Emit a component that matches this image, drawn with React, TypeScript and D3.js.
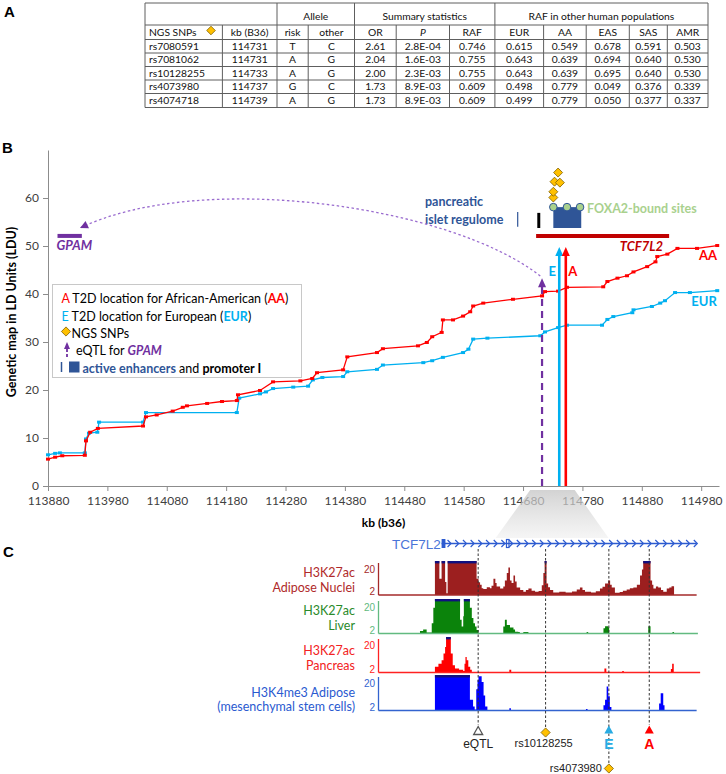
import { useEffect, useRef } from "react";
import * as d3 from "d3";

const W = 726;
const H = 774;
const SANS = "Lato, 'Open Sans', 'DejaVu Sans', sans-serif";
const ARIAL = "'Liberation Sans', Arial, sans-serif";

// ---- Panel A: NGS SNP table ----
const tableGroups = ["", "Allele", "Summary statistics", "RAF in other human populations"];
const tableGroupSpans = [2, 2, 3, 5];
const tableColumns = ["NGS SNPs", "kb (B36)", "risk", "other", "OR", "P", "RAF", "EUR", "AA", "EAS", "SAS", "AMR"];
const snpIds = ["rs7080591", "rs7081062", "rs10128255", "rs4073980", "rs4074718"];
const snpKb = [114731, 114731, 114733, 114737, 114739];
const riskAllele = ["T", "A", "A", "G", "A"];
const otherAllele = ["C", "G", "G", "C", "G"];
const oddsRatio = ["2.61", "2.04", "2.00", "1.73", "1.73"];
const pValue = ["2.8E-04", "1.6E-03", "2.3E-03", "8.9E-03", "8.9E-03"];
const rafT2D = ["0.746", "0.755", "0.755", "0.609", "0.609"];
const rafEUR = ["0.615", "0.643", "0.643", "0.498", "0.499"];
const rafAA = ["0.549", "0.639", "0.639", "0.779", "0.779"];
const rafEAS = ["0.678", "0.694", "0.695", "0.049", "0.050"];
const rafSAS = ["0.591", "0.640", "0.640", "0.376", "0.377"];
const rafAMR = ["0.503", "0.530", "0.530", "0.339", "0.337"];

// ---- Panel B: LD maps (kb, LDU) ----
const kbTicks = [113880, 113980, 114080, 114180, 114280, 114380, 114480, 114580, 114680, 114780, 114880, 114980];
const lduTicks = [0, 10, 20, 30, 40, 50, 60];
const aaMap: [number, number][] = [
  [113880, 5.6], [113892, 6.0], [113904, 6.3], [113942, 6.4], [113944, 9.4], [113951, 11.2], [113964, 12.0],
  [114040, 12.5], [114045, 14.4], [114063, 14.8], [114090, 15.6], [114107, 16.4], [114114, 16.7], [114148, 17.2],
  [114173, 17.6], [114198, 17.8], [114200, 19.0], [114237, 19.9], [114259, 21.7], [114305, 21.9], [114325, 22.4],
  [114333, 23.6], [114377, 24.2], [114384, 26.9], [114434, 27.8], [114444, 28.6], [114503, 29.2], [114518, 29.9],
  [114527, 31.1], [114543, 32.0], [114545, 34.6], [114562, 34.6], [114579, 35.4], [114591, 36.3], [114596, 37.5],
  [114613, 38.1], [114663, 38.9], [114712, 39.6], [114717, 40.5], [114739, 40.6], [114754, 41.4], [114815, 41.5],
  [114822, 42.6], [114839, 43.3], [114855, 43.8], [114866, 44.6], [114889, 45.7], [114903, 46.7], [114906, 47.8],
  [114923, 48.3], [114940, 49.5], [114973, 49.5], [115007, 50.1],
];
const eurMap: [number, number][] = [
  [113880, 6.5], [113892, 6.8], [113900, 6.9], [113942, 6.9], [113944, 9.8], [113949, 11.0], [113963, 11.2],
  [113966, 13.3], [114040, 13.3], [114045, 15.3], [114198, 15.3], [114202, 18.3], [114237, 19.2], [114247, 19.6],
  [114259, 20.3], [114293, 20.6], [114318, 20.8], [114326, 22.1], [114342, 22.6], [114377, 22.8], [114384, 23.8],
  [114434, 24.3], [114444, 25.2], [114512, 25.7], [114527, 26.1], [114545, 26.8], [114579, 27.8], [114588, 28.5],
  [114596, 30.6], [114620, 30.8], [114709, 31.3], [114717, 32.1], [114739, 33.0], [114754, 33.5], [114813, 33.5],
  [114822, 34.7], [114832, 35.3], [114864, 36.1], [114866, 36.7], [114897, 37.4], [114911, 38.1], [114919, 38.6],
  [114936, 40.3], [114961, 40.3], [115007, 40.7],
];
// loci marked with arrows: [kb, arrow tip LDU]
const eqtlArrow = [114712, 43.3];
const eurArrow = [114741, 49.8];
const aaArrow = [114752, 49.8];
// genes: [start kb, end kb, LDU]
const gpamGene = [113896, 113937, 52.1];
const tcf7l2Gene = [114702, 114926, 52.1];
// SNP diamonds stacked above the regulome (kb, LDU)
const snpStack: [number, number][] = [[114731, 60.1], [114731, 61.3], [114733, 63.4], [114737, 63.2], [114739, 65.3]];
const foxa2Sites = [114731, 114754, 114776];

// ---- Panel C: epigenome tracks (kb from 114680, signal 0-20) ----
const adiposeNuclei: [number, number][] = [
  [17.9, 20], [19.3, 9.5], [20.0, 20], [21.1, 7.6], [21.5, 1], [21.9, 20], [31.0, 9.5], [31.6, 7.5], [32.1, 6.0],
  [32.6, 4.0], [33.1, 3.5], [34.2, 4.5], [35.2, 4.0], [35.7, 5.5], [36.3, 9.5], [36.9, 7.0], [37.3, 5.0], [38.4, 3.8],
  [39.4, 5.0], [39.9, 8.6], [40.5, 13], [41.0, 16.2], [41.5, 8.6], [42.0, 7], [42.6, 11.4], [43.1, 8], [43.6, 4.4],
  [44.7, 2.9], [45.7, 1.9], [46.5, 3.0], [47.3, 3.8], [48.3, 2.5], [49.4, 1.9], [50.5, 2.4], [51.5, 5.7], [52.0, 13],
  [52.4, 20], [53.0, 6.7], [53.5, 4.5], [54.1, 2.9], [55.1, 1.5], [57, 1.9], [59, 1.4], [61, 2.0], [62.5, 3.2],
  [63.5, 4.4], [64.3, 3.0], [65.1, 1.9], [67, 1.5], [68.5, 2.2], [69.8, 3.8], [70.6, 4.8], [71.4, 6.7], [72.4, 8.6],
  [73.0, 6.0], [73.5, 4.4], [74.5, 1.3], [76, 1.8], [77, 2.5], [78.2, 3.2], [79.2, 4.0], [80.3, 4.4], [81.4, 6.0],
  [82.4, 11.4], [83.0, 15], [83.4, 20], [85.7, 8.6], [86.2, 6.0], [86.6, 3.8], [87.4, 5.0], [88.1, 4.4], [89.0, 3.0],
  [89.7, 1.9], [90.8, 3.8], [91.6, 4.4], [92.3, 5.1], [93.1, 0],
];
const liverSignal: [number, number][] = [
  [13.2, 1.5], [14.2, 2.3], [15.3, 0.6], [16.9, 6], [17.4, 15], [17.9, 20], [25.3, 20], [25.8, 8], [26.3, 4],
  [26.8, 10], [27.0, 20], [28.6, 20], [28.9, 15], [29.5, 9], [30.0, 6], [30.5, 4], [31.0, 2], [31.6, 0],
  [39.4, 4], [39.9, 8], [40.5, 5], [41.5, 3.5], [42.6, 2.3], [43.1, 1], [44.1, 0.8], [44.6, 0], [45.7, 0.8], [47.3, 0],
  [65.6, 0.8], [66.1, 0], [70.9, 3], [71.4, 4.2], [72.4, 3.5], [72.7, 0], [85.0, 4.2], [85.7, 0], [92.6, 0.8], [93.1, 0],
];
const pancreasSignal: [number, number][] = [
  [17.9, 3.2], [19.0, 5.0], [20.0, 6.9], [20.6, 10.7], [21.1, 14.4], [21.4, 20], [22.9, 10.7], [23.5, 4.1],
  [24.2, 2.2], [25.5, 1.5], [26.8, 0.8], [27.2, 5], [27.5, 8.8], [27.9, 6.9], [28.4, 3.2], [29.0, 1.5], [29.5, 0],
  [41.3, 1.5], [41.9, 0], [71.2, 2.2], [71.8, 0], [76.8, 0.8], [77.3, 0], [92.1, 2], [92.5, 5], [93.0, 0],
];
const adiposeMscSignal: [number, number][] = [
  [17.9, 20], [28.9, 6], [29.9, 2.2], [30.4, 0.5], [30.9, 12], [31.3, 17.2], [31.6, 19.3], [32.6, 16], [33.2, 8.4],
  [33.7, 2.2], [34.4, 0], [41.3, 1.2], [41.8, 0], [65.4, 0.8], [65.9, 0], [70.9, 3], [71.4, 6], [71.9, 13.5],
  [72.4, 8], [72.9, 2], [73.4, 0], [88.4, 4], [88.9, 9.7], [89.7, 3], [90.1, 0],
];
const geneStartC = 20.0;
const geneEndC = 100.2;
// marker positions in panel C (kb from 114680)
const eqtlC = 31.5;
const rs10128255C = 52.7;
const eurC = 72.6;
const aaC = 85.3;

function diamond(g: any, cx: number, cy: number, r: number) {
  g.append("path")
    .attr("d", `M${cx},${cy - r}L${cx + r},${cy}L${cx},${cy + r}L${cx - r},${cy}Z`)
    .attr("fill", "#ffc000")
    .attr("stroke", "#7f6000")
    .attr("stroke-width", 0.8);
}

function upTriangle(g: any, cx: number, tip: number, w: number, h: number, fill: string, stroke = "none") {
  g.append("path")
    .attr("d", `M${cx},${tip}L${cx + w / 2},${tip + h}L${cx - w / 2},${tip + h}Z`)
    .attr("fill", fill)
    .attr("stroke", stroke)
    .attr("stroke-width", 1.3);
}

function richText(g: any, x: number, y: number, parts: [string, any][], size = 12.5) {
  const t = g.append("text").attr("x", x).attr("y", y).attr("font-family", SANS).attr("font-size", size);
  parts.forEach(([s, st]) => {
    const ts = t.append("tspan").text(s).attr("fill", st.fill || "#000");
    if (st.bold) ts.attr("font-weight", "bold");
    if (st.italic) ts.attr("font-style", "italic");
  });
  return t;
}

function drawTable(svg: any) {
  const colEdges = [145, 222.4, 277, 308.2, 354.5, 396.2, 449.5, 494.9, 543.6, 586.2, 629.3, 667.3, 708];
  const rowEdges = [3, 25, 39.5, 53, 66.5, 80, 93.5, 107.5];
  const g = svg.append("g").attr("font-family", SANS).attr("font-size", 10.3).attr("fill", "#111");
  const stroke = "#5e5e5e";
  const left = colEdges[0];
  const right = colEdges[colEdges.length - 1];

  rowEdges.forEach((y) =>
    g.append("line").attr("x1", left).attr("x2", right).attr("y1", y).attr("y2", y).attr("stroke", stroke)
  );
  const bounds = [0];
  tableGroupSpans.forEach((s) => bounds.push(bounds[bounds.length - 1] + s));
  bounds.forEach((i) =>
    g.append("line").attr("x1", colEdges[i]).attr("x2", colEdges[i]).attr("y1", rowEdges[0]).attr("y2", rowEdges[1]).attr("stroke", stroke)
  );
  colEdges.forEach((x) =>
    g.append("line").attr("x1", x).attr("x2", x).attr("y1", rowEdges[1]).attr("y2", rowEdges[rowEdges.length - 1]).attr("stroke", stroke)
  );

  tableGroups.forEach((label, k) => {
    g.append("text")
      .attr("x", (colEdges[bounds[k]] + colEdges[bounds[k + 1]]) / 2)
      .attr("y", rowEdges[1] - 5)
      .attr("text-anchor", "middle")
      .text(label);
  });

  tableColumns.forEach((c, i) => {
    const t = g.append("text").attr("y", rowEdges[2] - 4).text(c);
    if (i === 0) t.attr("x", left + 4);
    else t.attr("x", (colEdges[i] + colEdges[i + 1]) / 2).attr("text-anchor", "middle");
    if (c === "P") t.attr("font-style", "italic");
  });
  diamond(g, 211, 30.5, 4.3);

  const cols = [snpIds, snpKb.map(String), riskAllele, otherAllele, oddsRatio, pValue, rafT2D, rafEUR, rafAA, rafEAS, rafSAS, rafAMR];
  snpIds.forEach((_, r) => {
    cols.forEach((col, i) => {
      const t = g.append("text").attr("y", rowEdges[r + 3] - 3.5).text(col[r]);
      if (i === 0) t.attr("x", left + 4);
      else t.attr("x", (colEdges[i] + colEdges[i + 1]) / 2).attr("text-anchor", "middle");
    });
  });

  svg.append("text").attr("x", 4).attr("y", 17).attr("font-family", ARIAL).attr("font-weight", "bold").attr("font-size", 15).text("A");
}

function drawMap(svg: any) {
  const xB = d3.scaleLinear().domain([113880, 115010]).range([48, 719]);
  const yB = d3.scaleLinear().domain([0, 70]).range([486, 150]);
  const g = svg.append("g");

  svg.append("text").attr("x", 2).attr("y", 153).attr("font-family", ARIAL).attr("font-weight", "bold").attr("font-size", 15).text("B");

  // axes
  const xAxis = g.append("g")
    .attr("transform", `translate(0,${yB(0)})`)
    .call(d3.axisBottom(xB).tickValues(kbTicks).tickFormat(d3.format("d")).tickSize(5).tickSizeOuter(0).tickPadding(5));
  const yAxis = g.append("g")
    .attr("transform", `translate(${xB(113880)},0)`)
    .call(d3.axisLeft(yB).tickValues(lduTicks).tickSize(5).tickSizeOuter(0).tickPadding(4));
  [xAxis, yAxis].forEach((a) => {
    a.attr("font-family", SANS).attr("font-size", 12);
    a.select(".domain").attr("stroke", "#8c8c8c");
    a.selectAll(".tick line").attr("stroke", "#8c8c8c");
    a.selectAll(".tick text").attr("fill", "#404040");
  });

  g.append("text")
    .attr("x", (xB.range()[0] + xB.range()[1]) / 2)
    .attr("y", 527)
    .attr("text-anchor", "middle")
    .attr("font-family", SANS)
    .attr("font-weight", "bold")
    .attr("font-size", 12)
    .text("kb (b36)");
  g.append("text")
    .attr("transform", `translate(16,${(yB(0) + yB(70)) / 2 - 6}) rotate(-90)`)
    .attr("text-anchor", "middle")
    .attr("font-family", SANS)
    .attr("font-weight", "bold")
    .attr("font-size", 12.5)
    .text("Genetic map in LD Units (LDU)");

  // LD map curves
  const line = d3.line<[number, number]>().x((d) => xB(d[0])).y((d) => yB(d[1]));
  [
    { data: eurMap, color: "#00b0f0" },
    { data: aaMap, color: "#ff0000" },
  ].forEach((s) => {
    g.append("path").datum(s.data).attr("fill", "none").attr("stroke", s.color).attr("stroke-width", 1.3).attr("d", line);
    g.append("g")
      .selectAll("rect")
      .data(s.data)
      .join("rect")
      .attr("x", (d: any) => xB(d[0]) - 2)
      .attr("y", (d: any) => yB(d[1]) - 1.5)
      .attr("width", 4)
      .attr("height", 3)
      .attr("fill", s.color);
  });
  g.append("text").attr("x", 708).attr("y", 259.5).attr("text-anchor", "middle").attr("font-family", SANS)
    .attr("font-weight", "bold").attr("font-size", 13).attr("fill", "#ff0000").text("AA");
  g.append("text").attr("x", 704).attr("y", 305.5).attr("text-anchor", "middle").attr("font-family", SANS)
    .attr("font-weight", "bold").attr("font-size", 13).attr("fill", "#00b0f0").text("EUR");

  // genes
  g.append("line").attr("x1", xB(gpamGene[0])).attr("x2", xB(gpamGene[1])).attr("y1", yB(gpamGene[2])).attr("y2", yB(gpamGene[2]))
    .attr("stroke", "#7030a0").attr("stroke-width", 4);
  g.append("text").attr("x", xB(gpamGene[0]) - 1).attr("y", yB(gpamGene[2]) + 14.5).attr("font-family", SANS)
    .attr("font-weight", "bold").attr("font-style", "italic").attr("font-size", 13).attr("fill", "#7030a0").text("GPAM");
  g.append("line").attr("x1", xB(tcf7l2Gene[0])).attr("x2", xB(tcf7l2Gene[1])).attr("y1", yB(tcf7l2Gene[2])).attr("y2", yB(tcf7l2Gene[2]))
    .attr("stroke", "#c00000").attr("stroke-width", 4);
  g.append("text").attr("x", xB(tcf7l2Gene[1]) - 6).attr("y", yB(tcf7l2Gene[2]) + 15).attr("text-anchor", "end").attr("font-family", SANS)
    .attr("font-weight", "bold").attr("font-style", "italic").attr("font-size", 13).attr("fill", "#c00000").text("TCF7L2");

  // pancreatic islet regulome
  const blue = "#2f5597";
  richText(g, 425, 206, [["pancreatic", { fill: blue, bold: true }]], 12.5);
  richText(g, 425, 224, [["islet regulome", { fill: blue, bold: true }]], 12.5);
  g.append("line").attr("x1", xB(114671)).attr("x2", xB(114671)).attr("y1", yB(57.1)).attr("y2", yB(54.0)).attr("stroke", blue).attr("stroke-width", 1.2);
  g.append("rect").attr("x", xB(114704)).attr("y", yB(56.9)).attr("width", xB(114709) - xB(114704)).attr("height", yB(53.75) - yB(56.9)).attr("fill", "#000");
  g.append("rect").attr("x", xB(114731)).attr("y", yB(58.1)).attr("width", xB(114778) - xB(114731)).attr("height", yB(53.75) - yB(58.1)).attr("fill", blue);
  foxa2Sites.forEach((kb) =>
    g.append("circle").attr("cx", xB(kb)).attr("cy", yB(58.1)).attr("r", 3.8).attr("fill", "#a9d18e").attr("stroke", blue).attr("stroke-width", 1)
  );
  richText(g, 587, 212.5, [["FOXA2-bound sites", { fill: "#a9d18e", bold: true }]], 12.5);
  snpStack.forEach(([kb, ldu], i) => diamond(g, xB(kb) + (i === 3 ? 3 : 0), yB(ldu), 4.5));

  // dotted link eQTL -> GPAM
  const p = d3.path();
  const p0 = [xB(114709), yB(43.75)];
  const c1 = [xB(114557), yB(58.5)];
  const c2 = [xB(114136), yB(65.8)];
  const p3 = [xB(113934), yB(53.75)];
  p.moveTo(p0[0], p0[1]);
  p.bezierCurveTo(c1[0], c1[1], c2[0], c2[1], p3[0], p3[1]);
  g.append("path").attr("d", p.toString()).attr("fill", "none").attr("stroke", "#9a6ccf").attr("stroke-width", 1.3).attr("stroke-dasharray", "2.5,2.5");
  const ang = Math.atan2(p3[1] - c2[1], p3[0] - c2[0]);
  const ah = 8, aw = 4;
  const bx = p3[0] - ah * Math.cos(ang), by = p3[1] - ah * Math.sin(ang);
  g.append("path")
    .attr("d", `M${p3[0]},${p3[1]}L${bx + aw * Math.sin(ang)},${by - aw * Math.cos(ang)}L${bx - aw * Math.sin(ang)},${by + aw * Math.cos(ang)}Z`)
    .attr("fill", "#7030a0");

  // vertical arrows
  const ex = xB(eqtlArrow[0]);
  g.append("line").attr("x1", ex).attr("x2", ex).attr("y1", yB(0)).attr("y2", yB(eqtlArrow[1]) + 7)
    .attr("stroke", "#7030a0").attr("stroke-width", 2.2).attr("stroke-dasharray", "7,5");
  upTriangle(g, ex, yB(eqtlArrow[1]), 8, 9, "#7030a0");
  [
    { a: eurArrow, color: "#00b0f0", label: "E", dx: -7 },
    { a: aaArrow, color: "#ff0000", label: "A", dx: 7 },
  ].forEach((s) => {
    const x = xB(s.a[0]);
    g.append("line").attr("x1", x).attr("x2", x).attr("y1", yB(0)).attr("y2", yB(s.a[1]) + 6).attr("stroke", s.color).attr("stroke-width", 2.6);
    upTriangle(g, x, yB(s.a[1]), 8, 9, s.color);
    g.append("text").attr("x", x + s.dx).attr("y", 276).attr("text-anchor", "middle").attr("font-family", SANS)
      .attr("font-weight", "bold").attr("font-size", 13).attr("fill", s.color).text(s.label);
  });

  // legend
  const lg = g.append("g");
  lg.append("rect").attr("x", 52.5).attr("y", 284.5).attr("width", 249).attr("height", 93).attr("fill", "#fff").attr("stroke", "#c8c8c8");
  richText(lg, 61.5, 302.5, [["A", { fill: "#ff0000" }], [" T2D location for African-American (", {}], ["AA", { fill: "#ff0000", bold: true }], [")", {}]]);
  richText(lg, 61.5, 320.5, [["E", { fill: "#00b0f0" }], [" T2D location for European (", {}], ["EUR", { fill: "#00b0f0", bold: true }], [")", {}]]);
  diamond(lg, 66, 331.5, 4.6);
  richText(lg, 71.5, 337.5, [["NGS SNPs", {}]]);
  lg.append("line").attr("x1", 67).attr("x2", 67).attr("y1", 349).attr("y2", 359).attr("stroke", "#7030a0").attr("stroke-width", 1.8).attr("stroke-dasharray", "3,2");
  upTriangle(lg, 67, 342, 6, 7, "#7030a0");
  richText(lg, 76, 355, [["eQTL for ", {}], ["GPAM", { fill: "#7030a0", bold: true, italic: true }]]);
  lg.append("line").attr("x1", 61.5).attr("x2", 61.5).attr("y1", 362).attr("y2", 372).attr("stroke", blue).attr("stroke-width", 1.5);
  lg.append("rect").attr("x", 69).attr("y", 361.5).attr("width", 10.5).attr("height", 11).attr("fill", blue);
  richText(lg, 82.5, 372.5, [["active enhancers", { fill: blue, bold: true }], [" and ", {}], ["promoter I", { bold: true }]]);

  return xB;
}

function drawTracks(svg: any, xB: any) {
  const xC = d3.scaleLinear().domain([0, 100]).range([378, 696]);
  const g = svg.append("g");

  svg.append("text").attr("x", 3).attr("y", 557).attr("font-family", ARIAL).attr("font-weight", "bold").attr("font-size", 15).text("C");

  // zoom wedge from panel B axis to panel C
  const defs = svg.append("defs");
  const grad = defs.append("linearGradient").attr("id", "wedge").attr("x1", 0).attr("x2", 0).attr("y1", 0).attr("y2", 1);
  grad.append("stop").attr("offset", "0%").attr("stop-color", "#c4c4c4").attr("stop-opacity", 0.75);
  grad.append("stop").attr("offset", "100%").attr("stop-color", "#efefef").attr("stop-opacity", 0.6);
  g.append("path")
    .attr("d", `M${xB(114692)},490L${xB(114767)},490L${xC(72.5)},538L${xC(37.0)},538Z`)
    .attr("fill", "url(#wedge)");

  // gene model
  const geneColor = "#2d5bd0";
  const gy = 543.5;
  g.append("text").attr("x", 392).attr("y", gy + 5).attr("font-family", ARIAL).attr("font-size", 13.5).attr("fill", "#4a74d8").text("TCF7L2");
  g.append("line").attr("x1", xC(geneStartC)).attr("x2", xC(geneEndC)).attr("y1", gy).attr("y2", gy).attr("stroke", geneColor).attr("stroke-width", 1.5);
  g.append("rect").attr("x", xC(geneStartC)).attr("y", gy - 4.5).attr("width", xC(21.2) - xC(geneStartC)).attr("height", 9).attr("fill", geneColor);
  g.append("rect").attr("x", xC(40.4)).attr("y", gy - 4).attr("width", 2.5).attr("height", 8).attr("fill", "none").attr("stroke", geneColor).attr("stroke-width", 1.2);
  d3.range(22.5, geneEndC, 2.42).forEach((k) => {
    const x = xC(k);
    g.append("path").attr("d", `M${x - 2},${gy - 3.5}L${x + 1.5},${gy}L${x - 2},${gy + 3.5}`).attr("fill", "none").attr("stroke", geneColor).attr("stroke-width", 1.2);
  });

  const tracks = [
    { lines: ["H3K27ac", "Adipose Nuclei"], data: adiposeNuclei, fill: "#9c1f1f", axis: "#a52a2a", text: "#b02a2a", top: 561, base: 595, end: 100.2, labelY: [577, 592] },
    { lines: ["H3K27ac", "Liver"], data: liverSignal, fill: "#0b830b", axis: "#62ba80", text: "#2a8a2a", top: 599, base: 633.5, end: 100.6, labelY: [615, 630] },
    { lines: ["H3K27ac", "Pancreas"], data: pancreasSignal, fill: "#ff0000", axis: "#ff2222", text: "#f22222", top: 637, base: 672.5, end: 101.3, labelY: [655, 670] },
    { lines: ["H3K4me3 Adipose", "(mesenchymal stem cells)"], data: adiposeMscSignal, fill: "#0000ff", axis: "#3363cf", text: "#2a5ad0", top: 675, base: 710.5, end: 100.2, labelY: [696.5, 711] },
  ];

  tracks.forEach((t) => {
    const yT = d3.scaleLinear().domain([0, 20]).range([t.base, t.top]).clamp(true);
    const area = d3.area<[number, number]>().x((d) => xC(d[0])).y0(t.base).y1((d) => yT(d[1])).curve(d3.curveStepAfter);
    g.append("path").datum(t.data).attr("fill", t.fill).attr("d", area);
    // clipped-signal caps
    t.data.forEach((d, i) => {
      if (d[1] >= 20 && i < t.data.length - 1) {
        g.append("line").attr("x1", xC(d[0])).attr("x2", xC(t.data[i + 1][0])).attr("y1", t.top + 1.2).attr("y2", t.top + 1.2)
          .attr("stroke", "#101080").attr("stroke-width", 2.4);
      }
    });
    g.append("line").attr("x1", 378.5).attr("x2", xC(t.end)).attr("y1", t.base).attr("y2", t.base).attr("stroke", t.axis).attr("stroke-width", 1.6);
    g.append("line").attr("x1", 378.5).attr("x2", 378.5).attr("y1", t.top + 2).attr("y2", t.base).attr("stroke", t.axis).attr("stroke-width", 1.3);
    g.append("text").attr("x", 375).attr("y", t.top + 12).attr("text-anchor", "end").attr("font-family", ARIAL).attr("font-size", 10).attr("fill", t.axis).text("20");
    g.append("text").attr("x", 375).attr("y", t.base).attr("text-anchor", "end").attr("font-family", ARIAL).attr("font-size", 10).attr("fill", t.axis).text("2");
    t.lines.forEach((s, i) =>
      g.append("text").attr("x", 355).attr("y", t.labelY[i]).attr("text-anchor", "end").attr("font-family", SANS).attr("font-size", 12.5).attr("fill", t.text).text(s)
    );
  });

  // SNP / locus markers
  const dash = (k: number, y2: number) =>
    g.append("line").attr("x1", xC(k)).attr("x2", xC(k)).attr("y1", 549).attr("y2", y2).attr("stroke", "#333").attr("stroke-width", 1).attr("stroke-dasharray", "2.5,2");
  dash(eqtlC, 725);
  dash(rs10128255C, 728);
  dash(eurC, 764);
  dash(aaC, 725);
  upTriangle(g, xC(eqtlC), 726.5, 9, 8, "#fff", "#555");
  diamond(g, xC(rs10128255C), 732.5, 4.6);
  upTriangle(g, xC(eurC), 725.5, 9, 8, "#29abe2");
  upTriangle(g, xC(aaC), 725.5, 9, 8, "#ff0000");
  diamond(g, xC(eurC), 768.5, 4.6);
  const lab = (x: number, y: number, s: string, anchor = "middle") =>
    g.append("text").attr("x", x).attr("y", y).attr("text-anchor", anchor).attr("font-family", ARIAL).attr("font-size", 11).attr("fill", "#222").text(s);
  lab(xC(eqtlC), 747.5, "eQTL").attr("font-size", 12);
  lab(xC(rs10128255C) - 2, 746.5, "rs10128255");
  lab(xC(eurC) - 7, 772, "rs4073980", "end");
  lab(xC(eurC), 748.5, "E").attr("font-size", 14).attr("font-weight", "bold").attr("fill", "#29abe2");
  lab(xC(aaC), 748.5, "A").attr("font-size", 14).attr("font-weight", "bold").attr("fill", "#ff0000");
}

export default function App() {
  const svgRef = useRef<SVGSVGElement>(null);

  useEffect(() => {
    if (!svgRef.current) return;
    const svg = d3.select(svgRef.current);
    svg.selectAll("*").remove();
    svg.append("rect").attr("width", W).attr("height", H).attr("fill", "#fff");
    drawTable(svg);
    const xB = drawMap(svg);
    drawTracks(svg, xB);
  }, []);

  return <svg ref={svgRef} width={W} height={H} style={{ position: "absolute", left: 0, top: 0 }} />;
}
